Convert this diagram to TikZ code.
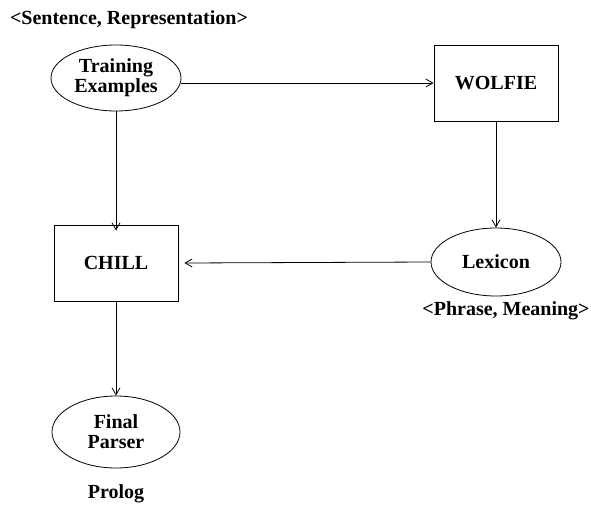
\documentclass[tikz,border=0pt]{standalone}
\usepackage{fontspec}
\setmainfont{Liberation Serif}
\usetikzlibrary{arrows.meta,shapes.geometric}
\begin{document}
\begin{tikzpicture}[x=1pt,y=-1pt,
  lbl/.style={font=\fontsize{20}{20}\selectfont\bfseries, align=center},
  ell/.style={draw, ellipse, line width=0.8pt, minimum width=130pt, minimum height=66pt, inner sep=0pt, lbl},
  boxn/.style={draw, rectangle, line width=0.8pt, minimum width=124pt, minimum height=76pt, lbl},
  arr/.style={line width=0.8pt, -{Straight Barb[length=7pt,width=8pt]}}]
\useasboundingbox (0,0) rectangle (591,506);
\node[lbl] (sr) at (129,20) {<Sentence, Representation>};
\node[ell] (te) at (116,78) {Training\\Examples};
\node[boxn] (wo) at (496,83) {WOLFIE};
\node[ell, minimum height=68pt] (lx) at (496,262) {Lexicon};
\node[lbl] (pm) at (506,311) {<Phrase, Meaning>};
\node[boxn] (ch) at (116,263) {CHILL};
\node[ell, minimum width=128pt, minimum height=72pt] (fp) at (116,432) {Final\\Parser};
\node[lbl] (pr) at (116,494) {Prolog};
\draw[arr] (te.east |- 0,83) -- (wo.west |- 0,83);
\draw[arr] (wo.south) -- (lx.north);
\draw[arr] (lx.west) -- ([xshift=6pt]ch.east);
\draw[arr] (te.south) -- ([yshift=-6pt]ch.north);
\draw[arr] (ch.south) -- (fp.north);
\end{tikzpicture}
\end{document}
